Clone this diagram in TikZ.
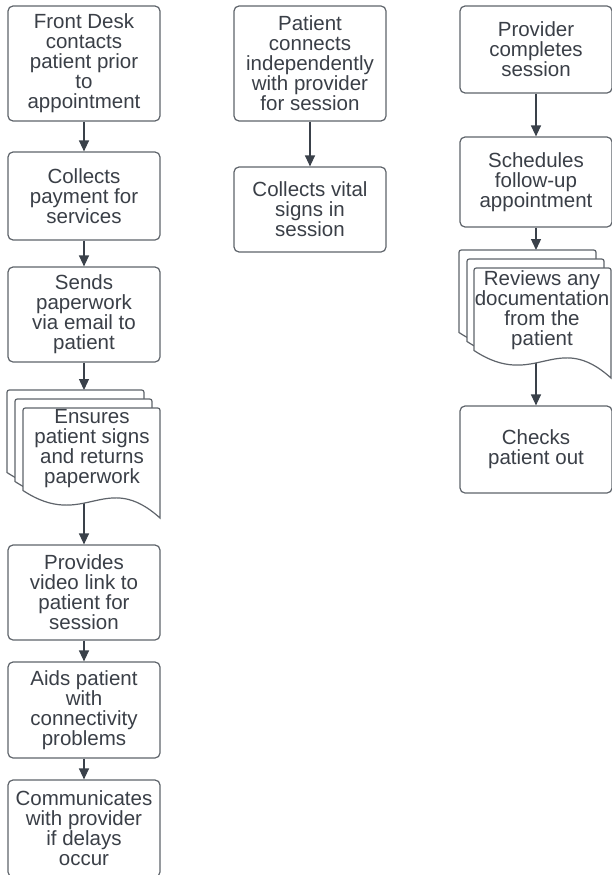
\documentclass[tikz,border=0pt]{standalone}
\usepackage{fontspec}
\setmainfont{Liberation Sans}
\usetikzlibrary{arrows.meta}
\definecolor{txt}{HTML}{3A3F47}
\definecolor{edge}{HTML}{5F646B}
\definecolor{arr}{HTML}{3A414A}
\newcommand\docsheet[2]{%
  \draw[sheet] (#1,#2+82.5) -- (#1,#2+5) .. controls (#1,#2) .. (#1+5,#2)
    -- (#1+132,#2) .. controls (#1+137,#2) .. (#1+137,#2+5)
    -- (#1+137,#2+110) .. controls (#1+82.2,#2+60.5) and (#1+61.6,#2+123.2) .. (#1,#2+82.5) -- cycle;}
\begin{document}
\begin{tikzpicture}[x=1pt,y=-1pt,
  box/.style={draw=edge, line width=1.2pt, rounded corners=5pt, fill=white, text=txt,
    font=\fontsize{20.5}{20}\selectfont, align=center, minimum width=152pt, inner sep=0pt},
  link/.style={draw=arr, line width=1.3pt, -{Triangle[width=10pt,length=11pt]}},
  sheet/.style={draw=edge, line width=1.2pt, fill=white},
  doclabel/.style={text=txt, font=\fontsize{20.5}{20}\selectfont, align=center, inner sep=0pt}]
\clip (0,0) rectangle (612,875);
\fill[white] (0,0) rectangle (612,875);
% left column
\node[box, minimum height=115pt] (b1) at (84,63.5) {Front Desk\\contacts\\patient prior\\to\\appointment};
\node[box, minimum height=88pt] (b2) at (84,196) {Collects\\payment for\\services};
\node[box, minimum height=95pt] (b3) at (84,314.5) {Sends\\paperwork\\via email to\\patient};
\coordinate (d1top) at (84,390);
\coordinate (d1out) at (84,495);
\node[box, minimum height=95pt] (b5) at (84,592.5) {Provides\\video link to\\patient for\\session};
\node[box, minimum height=96pt] (b6) at (84,710) {Aids patient\\with\\connectivity\\problems};
\node[box, minimum height=97pt] (b7) at (84,828.5) {Communicates\\with provider\\if delays\\occur};
% middle column
\node[box, minimum height=115pt] (m1) at (310,63.5) {Patient\\connects\\independently\\with provider\\for session};
\node[box, minimum height=85pt] (m2) at (310,209.5) {Collects vital\\signs in\\session};
% right column
\node[box, minimum height=87pt] (r1) at (536,49.5) {Provider\\completes\\session};
\node[box, minimum height=90pt] (r2) at (536,182) {Schedules\\follow-up\\appointment};
\coordinate (d2top) at (536,250);
\coordinate (d2out) at (536,355);
\node[box, minimum height=87pt] (r4) at (536,449.5) {Checks\\patient out};
% connectors
\draw[link] (b1.south) -- (b2.north);
\draw[link] (b2.south) -- (b3.north);
\draw[link] (b3.south) -- (d1top);
\draw[link] (d1out) -- (b5.north);
\draw[link] (b5.south) -- (b6.north);
\draw[link] (b6.south) -- (b7.north);
\draw[link] (m1.south) -- (m2.north);
\draw[link] (r1.south) -- (r2.north);
\draw[link] (r2.south) -- (d2top);
\draw[link] (d2out) -- (r4.north);
% document stacks
\docsheet{7}{390}
\docsheet{15}{399}
\docsheet{23}{408}
\node[doclabel] (d1) at (92,449) {Ensures\\patient signs\\and returns\\paperwork};
\docsheet{459}{250}
\docsheet{467}{259}
\docsheet{474}{268}
\node[doclabel] (d2) at (542,310) {Reviews any\\documentation\\from the\\patient};
\end{tikzpicture}
\end{document}
